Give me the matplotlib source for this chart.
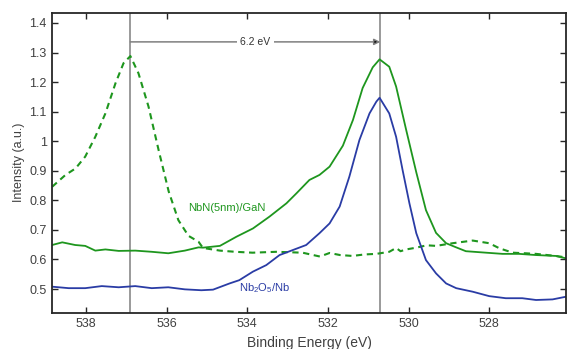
import matplotlib
matplotlib.use('Agg')
import matplotlib.pyplot as plt

# NbN(5nm)/GaN, shifted (dashed)
e_dash = [538.84, 538.51, 538.26, 538.02, 537.77, 537.52, 537.27, 537.07, 536.90,
          536.70, 536.45, 536.20, 535.95, 535.71, 535.46, 535.21, 535.10, 534.68,
          534.30, 533.87, 533.28, 532.63, 532.20, 531.96, 531.70, 531.39, 531.10,
          530.80, 530.48, 530.31, 530.20, 530.06, 529.81, 529.55, 529.32, 528.91,
          528.41, 528.00, 527.75, 527.42, 527.10, 526.84, 526.35, 526.10]
i_dash = [0.846, 0.886, 0.908, 0.948, 1.015, 1.094, 1.196, 1.264, 1.288,
          1.230, 1.117, 0.970, 0.830, 0.733, 0.680, 0.660, 0.639, 0.630,
          0.626, 0.623, 0.626, 0.623, 0.610, 0.622, 0.615, 0.612, 0.617,
          0.619, 0.626, 0.639, 0.628, 0.634, 0.640, 0.648, 0.646, 0.655,
          0.664, 0.655, 0.638, 0.623, 0.621, 0.619, 0.612, 0.607]

# NbN(5nm)/GaN (solid green)
e_nbn = [538.84, 538.59, 538.27, 538.02, 537.77, 537.52, 537.19, 536.78, 536.37,
         535.96, 535.55, 535.21, 535.10, 534.68, 534.27, 533.86, 533.45, 533.03,
         532.78, 532.46, 532.21, 531.96, 531.63, 531.38, 531.14, 530.89, 530.72,
         530.48, 530.31, 530.06, 529.81, 529.57, 529.32, 529.07, 528.82, 528.58,
         528.08, 527.67, 527.26, 526.84, 526.35, 526.10]
i_nbn = [0.649, 0.658, 0.649, 0.646, 0.630, 0.634, 0.629, 0.630, 0.626,
         0.621, 0.630, 0.641, 0.640, 0.646, 0.677, 0.705, 0.745, 0.790,
         0.824, 0.869, 0.886, 0.914, 0.985, 1.072, 1.180, 1.250, 1.277,
         1.252, 1.185, 1.038, 0.895, 0.767, 0.690, 0.655, 0.641, 0.628,
         0.623, 0.619, 0.619, 0.615, 0.612, 0.604]

# Nb2O5/Nb (solid blue)
e_nb = [538.84, 538.43, 538.02, 537.61, 537.19, 536.78, 536.37, 535.96, 535.55,
        535.14, 534.85, 534.44, 534.20, 533.86, 533.53, 533.20, 532.87, 532.54,
        532.21, 531.96, 531.71, 531.47, 531.22, 530.97, 530.80, 530.72, 530.48,
        530.31, 530.15, 529.98, 529.81, 529.57, 529.32, 529.07, 528.82, 528.41,
        528.00, 527.59, 527.18, 526.84, 526.43, 526.10]
i_nb = [0.508, 0.503, 0.503, 0.510, 0.506, 0.510, 0.503, 0.506, 0.499,
        0.496, 0.498, 0.519, 0.530, 0.559, 0.581, 0.615, 0.632, 0.649,
        0.689, 0.722, 0.779, 0.880, 1.004, 1.094, 1.134, 1.147, 1.094,
        1.015, 0.903, 0.790, 0.689, 0.598, 0.553, 0.519, 0.503, 0.491,
        0.476, 0.469, 0.469, 0.463, 0.465, 0.474]

peak_left = 536.9
peak_right = 530.7
arrow_y = 1.336

green = '#1e961e'
blue = '#2a3ca5'
grey = '#7f7f7f'
axcol = '#262626'

plt.rcParams['font.family'] = ['Liberation Sans', 'DejaVu Sans']
plt.rcParams['mathtext.fontset'] = 'custom'
plt.rcParams['mathtext.rm'] = 'Liberation Sans'
plt.rcParams['mathtext.it'] = 'Liberation Sans'
plt.rcParams['mathtext.default'] = 'regular'

fig = plt.figure(figsize=(5.67, 3.49), dpi=100)
ax = fig.add_axes([0.092, 0.104, 0.906, 0.859])

ax.axvline(peak_left, color=grey, lw=1.1, zorder=1)
ax.axvline(peak_right, color=grey, lw=1.1, zorder=1)

ax.plot(e_dash, i_dash, color=green, lw=1.5, ls=(0, (3, 2.2)))
ax.plot(e_nbn, i_nbn, color=green, lw=1.3)
ax.plot(e_nb, i_nb, color=blue, lw=1.3)

ax.annotate('', xy=(peak_right, arrow_y), xytext=(peak_left, arrow_y),
            arrowprops=dict(arrowstyle='-|>', color=grey, lw=1.1,
                            mutation_scale=9, fc='black', ec=grey,
                            shrinkA=0, shrinkB=0))
ax.text((peak_left + peak_right) / 2, arrow_y, '6.2 eV', ha='center', va='center',
        fontsize=7.5, color='#333333',
        bbox=dict(boxstyle='square,pad=0.35', fc='white', ec='none'))

ax.text(535.48, 0.774, 'NbN(5nm)/GaN', color=green, fontsize=8, va='center')
ax.text(534.2, 0.503, r'Nb$_2$O$_5$/Nb', color=blue, fontsize=8, va='center')

ax.set_xlim(538.84, 526.1)
ax.set_ylim(0.42, 1.434)
ax.set_xticks([538, 536, 534, 532, 530, 528])
ax.set_yticks([0.5, 0.6, 0.7, 0.8, 0.9, 1.0, 1.1, 1.2, 1.3, 1.4])
ax.set_yticklabels(['0.5', '0.6', '0.7', '0.8', '0.9', '1', '1.1', '1.2', '1.3', '1.4'])
ax.tick_params(direction='in', top=True, right=True, length=4, width=1,
               labelsize=9, colors=axcol, labelcolor='#404040', pad=4)
for s in ax.spines.values():
    s.set_color(axcol)
    s.set_linewidth(1.3)

ax.set_xlabel('Binding Energy (eV)', fontsize=10, color='#404040', labelpad=4)
ax.set_ylabel('Intensity (a.u.)', fontsize=9, color='#404040', labelpad=3)

fig.savefig('out.png', dpi=100)
